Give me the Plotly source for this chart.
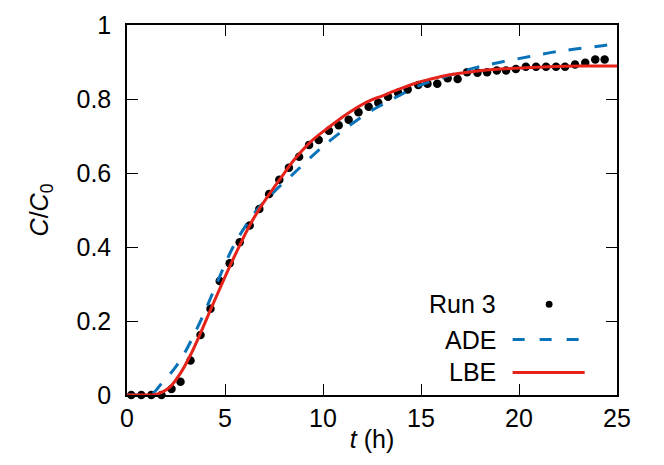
import plotly.graph_objects as go

# --- measured points (Run 3) ---
t_run = [0.22, 0.73, 1.24, 1.76, 2.27, 2.73, 3.24, 3.75, 4.26, 4.73,
         5.24, 5.75, 6.26, 6.75, 7.25, 7.77, 8.26, 8.78, 9.29, 9.78,
         10.30, 10.80, 11.31, 11.81, 12.33, 12.82, 13.32, 13.83, 14.32, 14.86,
         15.33, 15.83, 16.36, 16.87, 17.35, 17.88, 18.37, 18.87, 19.34, 19.84,
         20.35, 20.87, 21.38, 21.89, 22.35, 22.86, 23.38, 23.89, 24.37]
c_run = [0.0, 0.0, 0.0, 0.0, 0.016, 0.036, 0.093, 0.162, 0.233, 0.308,
         0.356, 0.413, 0.458, 0.503, 0.543, 0.582, 0.614, 0.644, 0.676, 0.689,
         0.714, 0.729, 0.744, 0.764, 0.779, 0.790, 0.806, 0.817, 0.826, 0.838,
         0.841, 0.841, 0.856, 0.854, 0.872, 0.871, 0.872, 0.877, 0.877, 0.881,
         0.887, 0.887, 0.887, 0.887, 0.887, 0.893, 0.898, 0.907, 0.907]

# --- ADE model curve ---
t_ade = [0, 1.0, 1.35, 1.7, 2.37, 2.88, 3.41, 3.93, 4.44, 4.95, 5.46, 6.48,
         7.42, 8.61, 9.64, 10.23, 11.35, 12.45, 13.0, 13.7, 15.0, 16.4,
         17.74, 19.1, 20.48, 21.68, 22.87, 24.25, 25]
c_ade = [0, 0.001, 0.006, 0.027, 0.068, 0.108, 0.162, 0.221, 0.284, 0.347, 0.405, 0.49,
         0.545, 0.604, 0.655, 0.682, 0.728, 0.768, 0.784, 0.804, 0.838, 0.863,
         0.884, 0.9, 0.914, 0.926, 0.935, 0.944, 0.949]

# --- LBE model curve ---
t_lbe = [0, 1.0, 1.35, 1.8, 2.2, 2.73, 3.24, 3.75, 4.26, 4.78, 5.29, 5.8,
         6.32, 6.83, 7.33, 7.84, 8.52, 9.38, 10.23, 11.26, 12.28, 13.0, 13.66,
         14.68, 15.5, 16.4, 17.2, 18.1, 19.8, 21.5, 23.2, 25]
c_lbe = [0, 0, 0, 0.008, 0.022, 0.059, 0.108, 0.167, 0.23, 0.293, 0.353, 0.41,
         0.464, 0.509, 0.548, 0.586, 0.635, 0.685, 0.721, 0.761, 0.793, 0.808, 0.822,
         0.842, 0.854, 0.865, 0.871, 0.877, 0.883, 0.887, 0.889, 0.889]

x_ticks = [0, 5, 10, 15, 20, 25]
y_ticks = [0, 0.2, 0.4, 0.6, 0.8, 1]
y_tick_text = ["0", "0.2", "0.4", "0.6", "0.8", "1"]

legend_names = ["Run 3", "ADE", "LBE"]

BLUE = "#0a72b8"
RED = "#e5231a"
FONT = "Liberation Sans, Arial, sans-serif"
FS = 25

fig = go.Figure()

fig.add_trace(go.Scatter(
    x=t_run, y=c_run, mode="markers",
    marker=dict(size=8.5, color="black"),
    cliponaxis=False, showlegend=False,
))
fig.add_trace(go.Scatter(
    x=t_ade, y=c_ade, mode="lines",
    line=dict(color=BLUE, width=3, dash="13px,13px", shape="spline"),
    showlegend=False,
))
fig.add_trace(go.Scatter(
    x=t_lbe, y=c_lbe, mode="lines",
    line=dict(color=RED, width=3, shape="spline"),
    showlegend=False,
))

axis_common = dict(
    showgrid=False, zeroline=False,
    showline=True, linecolor="black", linewidth=1.5, mirror="ticks",
    ticks="inside", ticklen=11, tickwidth=1.2, tickcolor="black",
    tickfont=dict(family=FONT, size=FS, color="black"),
    automargin=False,
)

fig.update_xaxes(
    range=[0, 25], tickvals=x_ticks, ticklabelstandoff=0,
    title=dict(text="<i>t</i> (h)", font=dict(family=FONT, size=FS, color="black"), standoff=0),
    **axis_common,
)
fig.update_yaxes(
    range=[0, 1], tickvals=y_ticks, ticktext=y_tick_text, ticklabelstandoff=9,
    title=dict(text="<i>C</i>/<i>C</i><sub>0</sub>", font=dict(family=FONT, size=FS, color="black"), standoff=21),
    **axis_common,
)

# gnuplot-style key: text right-aligned, sample on the right
key_rows_y = [0.245, 0.150, 0.061]   # paper coords of the three key rows
text_x = 0.757
samp_x0, samp_x1 = 0.787, 0.934
for name, yy in zip(legend_names, key_rows_y):
    fig.add_annotation(
        x=text_x, y=yy, xref="paper", yref="paper", text=name,
        showarrow=False, xanchor="right", yanchor="middle",
        font=dict(family=FONT, size=FS, color="black"),
    )
fig.add_shape(type="circle", xref="paper", yref="paper",
              x0=0.8545, x1=0.8685, y0=key_rows_y[0] - 0.0095, y1=key_rows_y[0] + 0.0095,
              fillcolor="black", line=dict(width=0))
fig.add_shape(type="line", xref="paper", yref="paper",
              x0=samp_x0, x1=0.926, y0=key_rows_y[1], y1=key_rows_y[1],
              line=dict(color=BLUE, width=3, dash="12px,15px"))
fig.add_shape(type="line", xref="paper", yref="paper",
              x0=samp_x0, x1=samp_x1, y0=key_rows_y[2], y1=key_rows_y[2],
              line=dict(color=RED, width=3))

# the page body adds an 8px offset, so margins are shifted to compensate
fig.update_layout(
    width=664, height=465,
    margin=dict(l=119, r=55, t=17, b=78),
    plot_bgcolor="white", paper_bgcolor="white",
    font=dict(family=FONT, size=FS, color="black"),
)

fig.write_html("out.html")
